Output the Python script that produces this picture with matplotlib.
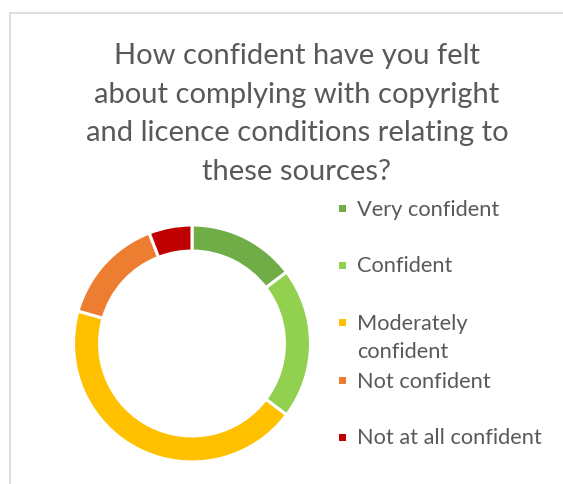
import matplotlib
matplotlib.use('Agg')
import matplotlib.pyplot as plt
from matplotlib.patches import Rectangle

# survey answers (respondent counts)
categories = ['Very confident', 'Confident', 'Moderately\nconfident', 'Not confident', 'Not at all confident']
counts = [5, 7, 15, 5, 2]
colors = ['#70AD47', '#92D050', '#FFC000', '#ED7D31', '#C00000']
title = 'How confident have you felt\nabout complying with copyright\nand licence conditions relating to\nthese sources?'

W, H = 563, 484
plt.rcParams['font.family'] = ['Lato', 'DejaVu Sans']
fig = plt.figure(figsize=(W / 100, H / 100), dpi=100)

# light grey chart border (left and top edges visible)
fig.add_artist(plt.Line2D([9.5 / W, 9.5 / W], [0, 1 - 13 / H], color='#D9D9D9', lw=1.2))
fig.add_artist(plt.Line2D([9.5 / W, 1], [1 - 13 / H, 1 - 13 / H], color='#D9D9D9', lw=1.2))

# donut
cx, cy, r = 192, 343.5, 118.5
ax = fig.add_axes([(cx - r) / W, (H - cy - r) / H, 2 * r / W, 2 * r / H])
ax.pie(counts, colors=colors, startangle=90, counterclock=False,
       wedgeprops=dict(width=0.22, edgecolor='white', linewidth=2.2))
ax.set_xlim(-1, 1)
ax.set_ylim(-1, 1)
ax.set_aspect('equal')
ax.axis('off')

# multi-line text: 'baseline' anchors the last line
fig.text(297 / W, 1 - 180 / H, title, ha='center', va='baseline', fontsize=21,
         color='#595959', linespacing=1.6)

# legend entries
leg_y = [208.5, 265, 322, 380, 437]
line_gap = 29
for lab, col, y in zip(categories, colors, leg_y):
    fig.add_artist(Rectangle((339 / W, 1 - (y + 3.5) / H), 7 / W, 7 / H,
                             facecolor=col, edgecolor='none', transform=fig.transFigure))
    base = y + 7.5 + line_gap * lab.count('\n')
    fig.text(357 / W, 1 - base / H, lab, ha='left', va='baseline', fontsize=15.7,
             color='#595959', linespacing=1.55)

fig.savefig('out.png', dpi=100)
